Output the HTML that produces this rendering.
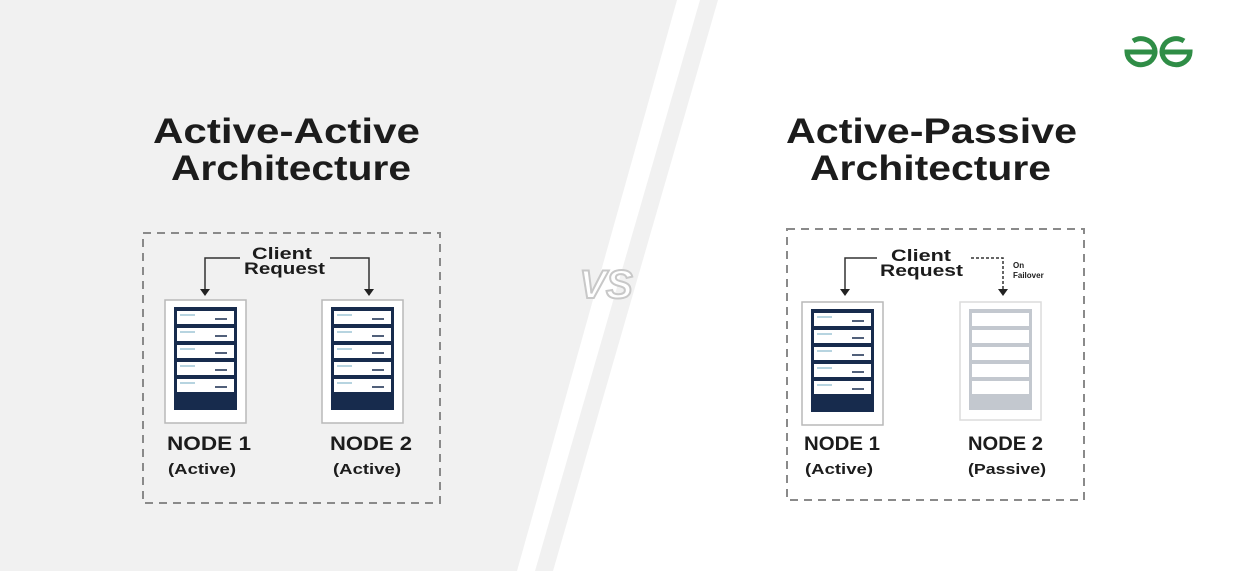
<!DOCTYPE html>
<html><head><meta charset="utf-8"><style>
html,body{margin:0;padding:0;background:#fff}
svg{display:block}
text{font-family:"Liberation Sans",sans-serif;font-weight:bold;fill:#1c1c1c}
</style></head><body>
<svg width="1253" height="571" viewBox="0 0 1253 571" xmlns="http://www.w3.org/2000/svg">
<defs>
<g id="srv">
  <rect x="0" y="0" width="81" height="123" fill="#fff" stroke="#b9b9b9" stroke-width="1.5"/>
  <rect x="9" y="7" width="63" height="103" fill="#172b4d"/>
  <g fill="#fff">
    <rect x="12" y="11" width="57" height="13"/>
    <rect x="12" y="28" width="57" height="13"/>
    <rect x="12" y="45" width="57" height="13"/>
    <rect x="12" y="62" width="57" height="13"/>
    <rect x="12" y="79" width="57" height="13"/>
  </g>
  <g stroke="#9fc5d6" stroke-width="1.5">
    <line x1="15" y1="15" x2="30" y2="15"/><line x1="15" y1="32" x2="30" y2="32"/>
    <line x1="15" y1="49" x2="30" y2="49"/><line x1="15" y1="66" x2="30" y2="66"/>
    <line x1="15" y1="83" x2="30" y2="83"/>
  </g>
  <g stroke="#172b4d" stroke-width="1.5">
    <line x1="50" y1="19" x2="62" y2="19"/><line x1="50" y1="36" x2="62" y2="36"/>
    <line x1="50" y1="53" x2="62" y2="53"/><line x1="50" y1="70" x2="62" y2="70"/>
    <line x1="50" y1="87" x2="62" y2="87"/>
  </g>
</g>
<g id="srvp">
  <rect x="0" y="0" width="81" height="118" fill="#fff" stroke="#dcdcdc" stroke-width="1.5"/>
  <rect x="9" y="7" width="63" height="101" fill="#c3c8cf"/>
  <g fill="#fff">
    <rect x="12" y="11" width="57" height="13"/>
    <rect x="12" y="28" width="57" height="13"/>
    <rect x="12" y="45" width="57" height="13"/>
    <rect x="12" y="62" width="57" height="13"/>
    <rect x="12" y="79" width="57" height="13"/>
  </g>
</g>
</defs>
<rect width="1253" height="571" fill="#fff"/>
<polygon points="0,0 677,0 517,571 0,571" fill="#f1f1f1"/>
<polygon points="700,0 718,0 553,571 535,571" fill="#f1f1f1"/>
<text x="606" y="298" font-size="40" font-style="italic" stroke="#c8c8c8" stroke-width="2" text-anchor="middle" style="fill:#fff">VS</text>

<g fill="none" stroke="#2f8d46" stroke-width="5">
  <path d="M1156 52 H1127 A14 13 0 1 0 1133 41"/>
  <path d="M1161 52 H1190 A14 13 0 1 1 1184 41"/>
</g>

<text x="153" y="143" font-size="35" textLength="267" lengthAdjust="spacingAndGlyphs">Active-Active</text>
<text x="171" y="180" font-size="35" textLength="240" lengthAdjust="spacingAndGlyphs">Architecture</text>
<rect x="143" y="233" width="297" height="270" fill="none" stroke="#8a8a8a" stroke-width="2" stroke-dasharray="8,6"/>
<text x="252" y="259" font-size="17" textLength="60" lengthAdjust="spacingAndGlyphs">Client</text>
<text x="244" y="274" font-size="17" textLength="81" lengthAdjust="spacingAndGlyphs">Request</text>
<g stroke="#333" stroke-width="1.5" fill="none">
  <path d="M240 258 H205 V290"/><path d="M330 258 H369 V290"/>
</g>
<polygon points="200,289 210,289 205,296" fill="#222"/>
<polygon points="364,289 374,289 369,296" fill="#222"/>
<use href="#srv" x="165" y="300"/>
<use href="#srv" x="322" y="300"/>
<text x="167" y="450" font-size="19" textLength="84" lengthAdjust="spacingAndGlyphs">NODE 1</text>
<text x="168" y="474" font-size="15" fill="#333" textLength="68" lengthAdjust="spacingAndGlyphs">(Active)</text>
<text x="330" y="450" font-size="19" textLength="82" lengthAdjust="spacingAndGlyphs">NODE 2</text>
<text x="333" y="474" font-size="15" fill="#333" textLength="68" lengthAdjust="spacingAndGlyphs">(Active)</text>

<text x="786" y="143" font-size="35" textLength="291" lengthAdjust="spacingAndGlyphs">Active-Passive</text>
<text x="810" y="180" font-size="35" textLength="241" lengthAdjust="spacingAndGlyphs">Architecture</text>
<rect x="787" y="229" width="297" height="271" fill="none" stroke="#8a8a8a" stroke-width="2" stroke-dasharray="8,6"/>
<text x="891" y="261" font-size="17" textLength="60" lengthAdjust="spacingAndGlyphs">Client</text>
<text x="880" y="276" font-size="17" textLength="83" lengthAdjust="spacingAndGlyphs">Request</text>
<g stroke="#333" stroke-width="1.5" fill="none">
  <path d="M877 258 H845 V290"/>
  <path d="M971 258 H1003 V290" stroke-dasharray="3,2"/>
</g>
<polygon points="840,289 850,289 845,296" fill="#222"/>
<polygon points="998,289 1008,289 1003,296" fill="#222"/>
<text x="1013" y="268" font-size="8">On</text>
<text x="1013" y="278" font-size="8">Failover</text>
<use href="#srv" x="802" y="302"/>
<use href="#srvp" x="960" y="302"/>
<text x="804" y="450" font-size="19" textLength="76" lengthAdjust="spacingAndGlyphs">NODE 1</text>
<text x="805" y="474" font-size="15" fill="#333" textLength="68" lengthAdjust="spacingAndGlyphs">(Active)</text>
<text x="968" y="450" font-size="19" textLength="75" lengthAdjust="spacingAndGlyphs">NODE 2</text>
<text x="968" y="474" font-size="15" fill="#333" textLength="78" lengthAdjust="spacingAndGlyphs">(Passive)</text>
</svg>
</body></html>
